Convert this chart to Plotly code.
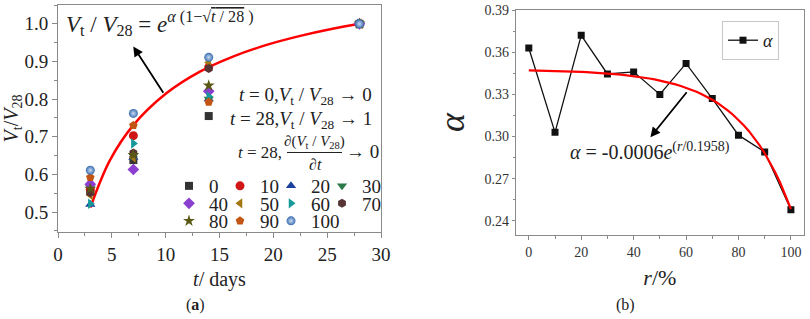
import plotly.graph_objects as go

W, H = 810, 319
def px(x):
    return x / W
def py(y):
    return 1 - y / H

FONT = "'Liberation Serif', 'Times New Roman', Times, serif"
GRAY = "#8a8a8a"
TXT = "#222222"

# ---------------- (a) data ----------------
t_days = [3, 7, 14, 28]
series_labels = ["0", "10", "20", "30", "40", "50", "60", "70", "80", "90", "100"]
ratio_0 = [0.555, 0.638, 0.755, 1.0]
ratio_10 = [0.560, 0.703, 0.885, 1.0]
ratio_20 = [0.520, 0.645, 0.800, 1.0]
ratio_30 = [0.565, 0.650, 0.800, 1.0]
ratio_40 = [0.574, 0.613, 0.821, 1.0]
ratio_50 = [0.545, 0.645, 0.897, 1.0]
ratio_60 = [0.522, 0.682, 0.807, 1.0]
ratio_70 = [0.551, 0.657, 0.881, 1.0]
ratio_80 = [0.562, 0.652, 0.836, 1.0]
ratio_90 = [0.592, 0.730, 0.792, 1.0]
ratio_100 = [0.611, 0.762, 0.911, 1.0]
ratios = [ratio_0, ratio_10, ratio_20, ratio_30, ratio_40, ratio_50,
          ratio_60, ratio_70, ratio_80, ratio_90, ratio_100]

fit_t = [3, 4.83, 7, 10.09, 13.18, 16.25, 19.38, 22.5, 25.5, 28]
fit_v = [0.512, 0.638, 0.731, 0.816, 0.873, 0.913, 0.944, 0.968, 0.987, 1.0]

# ---------------- (b) data ----------------
r_pct = [0, 10, 20, 30, 40, 50, 60, 70, 80, 90, 100]
alpha = [0.363, 0.303, 0.372, 0.3445, 0.346, 0.330, 0.352, 0.327, 0.301, 0.289, 0.248]
fit_coef = -0.0006
fit_scale = 0.1958
fit_offset = 0.3476
fit_r = list(range(0, 101, 2))
fit_alpha = [fit_offset + fit_coef * 2.718281828459045 ** ((r / 100) / fit_scale) for r in fit_r]

symbols = ["square", "circle", "triangle-up", "triangle-down", "diamond", "triangle-left",
           "triangle-right", "hexagon", "star", "pentagon", "circle"]
colors = ["#333333", "#d01515", "#1b3f9c", "#2b7a48", "#8a3fd0", "#a47810",
          "#17999a", "#573434", "#5a5812", "#c25414", "#3a6cb0"]
sizes = [8, 9, 9, 9, 9, 9, 9, 9, 9, 9, 9]
legends = ["legend"] * 4 + ["legend2"] * 4 + ["legend3"] * 3
row_last = {"30", "70", "100"}

fig = go.Figure()

fig.add_trace(go.Scatter(x=fit_t, y=fit_v, mode="lines", line=dict(color="#ff0000", width=2.5, shape="spline"),
                         showlegend=False, xaxis="x", yaxis="y"))

for i, lab in enumerate(series_labels):
    mk = dict(symbol=symbols[i], color=colors[i], size=sizes[i], line=dict(width=0))
    if lab == "100":
        mk["gradient"] = dict(type="radial", color="#c9dcf3")
    fig.add_trace(go.Scatter(x=t_days, y=ratios[i], mode="markers", name=lab, marker=mk,
                             legend=legends[i], legendwidth=(40 if lab in row_last else 6),
                             xaxis="x", yaxis="y"))

fig.add_trace(go.Scatter(x=r_pct, y=alpha, mode="lines+markers", name="<i>α</i>",
                         line=dict(color="#111111", width=1.3),
                         marker=dict(symbol="square", size=7, color="#111111"),
                         legend="legend4", xaxis="x2", yaxis="y2"))
fig.add_trace(go.Scatter(x=fit_r, y=fit_alpha, mode="lines", line=dict(color="#ff0000", width=2.2),
                         showlegend=False, xaxis="x2", yaxis="y2"))

axis_common = dict(showgrid=False, zeroline=False, showline=True, linecolor=GRAY, linewidth=1,
                   mirror=True, ticks="outside", tickcolor=GRAY, automargin=False)

leg_common = dict(orientation="h", entrywidthmode="pixels", xanchor="left",
                  yanchor="middle", bgcolor="rgba(0,0,0,0)", font=dict(family=FONT, size=19, color=TXT),
                  itemclick=False)

fig.update_layout(
    width=W, height=H, margin=dict(l=0, r=0, t=0, b=0),
    paper_bgcolor="white", plot_bgcolor="white",
    font=dict(family=FONT, color=TXT),
    xaxis=dict(domain=[px(58), px(381)], range=[0, 30], dtick=5, ticklen=5,
               tickfont=dict(family=FONT, size=19, color=TXT),
               minor=dict(dtick=2.5, ticks="outside", ticklen=3, tickcolor=GRAY),
               title=dict(text="<i>t</i>/ days", font=dict(family=FONT, size=20, color=TXT), standoff=8),
               anchor="y", **axis_common),
    yaxis=dict(domain=[py(232), py(5)], range=[0.447, 1.05], dtick=0.1, tickformat=".1f", ticklen=5,
               tickfont=dict(family=FONT, size=19, color=TXT),
               minor=dict(dtick=0.05, ticks="outside", ticklen=3, tickcolor=GRAY),
               title=dict(text="<i>V</i><sub>t</sub>/<i>V</i><sub>28</sub>", font=dict(family=FONT, size=20, color=TXT), standoff=6),
               anchor="x", **axis_common),
    xaxis2=dict(domain=[px(515.7), px(804)], range=[-5, 105], dtick=20, ticklen=4,
                tickfont=dict(family=FONT, size=14, color="#333"),
                minor=dict(dtick=10, ticks="outside", ticklen=2.5, tickcolor=GRAY),
                title=dict(text="<i>r</i>/%", font=dict(family=FONT, size=22, color=TXT), standoff=10),
                anchor="y2", **axis_common),
    yaxis2=dict(domain=[py(235), py(10)], range=[0.23, 0.39], tick0=0.24, dtick=0.03, tickformat=".2f",
                ticklen=3, tickfont=dict(family=FONT, size=14, color="#333"),
                minor=dict(tick0=0.24, dtick=0.015, ticks="outside", ticklen=2, tickcolor=GRAY),
                title=dict(text="<i>α</i>", font=dict(family=FONT, size=36, color=TXT), standoff=8),
                anchor="x2", **axis_common),
    legend=dict(x=px(169), y=py(186), **leg_common),
    legend2=dict(x=px(169), y=py(203.5), **leg_common),
    legend3=dict(x=px(169), y=py(221), **leg_common),
    legend4=dict(x=px(722), y=py(21), xanchor="left", yanchor="top", bgcolor="white",
                 bordercolor="#c8c8c8", borderwidth=1, font=dict(family=FONT, size=18, color=TXT),
                 itemclick=False),
)

ann = []
# formula (a)
ann.append(dict(xref="paper", yref="paper", x=px(64), y=py(23), xanchor="left", yanchor="middle",
                text="<i>V</i><sub>t</sub> / <i>V</i><sub>28</sub> = <i>e</i><sup><i>α</i> (1−√<span style='text-decoration:overline'><i>t</i> / 28</span> )</sup>",
                showarrow=False, font=dict(family=FONT, size=23, color=TXT)))
# conditions
ann.append(dict(xref="paper", yref="paper", x=px(374), y=py(96), xanchor="right", yanchor="middle",
                text="<i>t</i> = 0,<i>V</i><sub>t</sub> / <i>V</i><sub>28</sub> → 0", showarrow=False,
                font=dict(family=FONT, size=19, color=TXT)))
ann.append(dict(xref="paper", yref="paper", x=px(374), y=py(120), xanchor="right", yanchor="middle",
                text="<i>t</i> = 28,<i>V</i><sub>t</sub> / <i>V</i><sub>28</sub> → 1", showarrow=False,
                font=dict(family=FONT, size=19, color=TXT)))
ann.append(dict(xref="paper", yref="paper", x=px(284), y=py(152), xanchor="right", yanchor="middle",
                text="<i>t</i> = 28,", showarrow=False, font=dict(family=FONT, size=17, color=TXT)))
ann.append(dict(xref="paper", yref="paper", x=px(314), y=py(142), xanchor="center", yanchor="middle",
                text="∂(<i>V</i><sub>t</sub> / <i>V</i><sub>28</sub>)", showarrow=False,
                font=dict(family=FONT, size=15, color=TXT)))
ann.append(dict(xref="paper", yref="paper", x=px(315), y=py(164), xanchor="center", yanchor="middle",
                text="∂<i>t</i>", showarrow=False, font=dict(family=FONT, size=16, color=TXT)))
ann.append(dict(xref="paper", yref="paper", x=px(344), y=py(151), xanchor="left", yanchor="middle",
                text="→ 0", showarrow=False, font=dict(family=FONT, size=19, color=TXT)))
# arrows
ann.append(dict(xref="x", yref="y", axref="x", ayref="y", x=6.99, y=0.940, ax=9.87, ay=0.813,
                text="", showarrow=True, arrowhead=2, arrowsize=1.1, arrowwidth=1.8, arrowcolor="#000"))
ann.append(dict(xref="x2", yref="y2", axref="x2", ayref="y2", x=46.4, y=0.2995, ax=60.7, ay=0.3326,
                text="", showarrow=True, arrowhead=2, arrowsize=1.1, arrowwidth=1.8, arrowcolor="#000"))
# formula (b)
ann.append(dict(xref="paper", yref="paper", x=px(650), y=py(151), xanchor="center", yanchor="middle",
                text="<i>α</i> = -0.0006<i>e</i><sup>(<i>r</i>/0.1958)</sup>", showarrow=False,
                font=dict(family=FONT, size=20, color=TXT)))
# panel labels
ann.append(dict(xref="paper", yref="paper", x=px(195), y=py(305), xanchor="center", yanchor="middle",
                text="(<b>a</b>)", showarrow=False, font=dict(family=FONT, size=16, color=TXT)))
ann.append(dict(xref="paper", yref="paper", x=px(625), y=py(305), xanchor="center", yanchor="middle",
                text="(b)", showarrow=False, font=dict(family=FONT, size=16, color=TXT)))

fig.update_layout(annotations=ann)
fig.add_shape(type="line", xref="paper", yref="paper", x0=px(287), x1=px(342), y0=py(152.5), y1=py(152.5),
              line=dict(color=TXT, width=1))

fig.write_html("out.html", config={"displayModeBar": False},
               post_script="document.body.style.margin='0';document.body.style.overflow='hidden';")
